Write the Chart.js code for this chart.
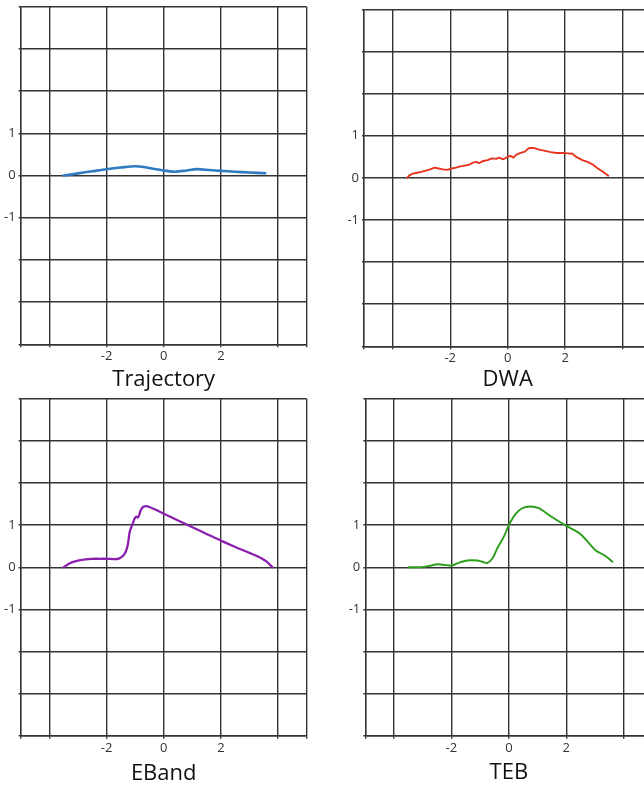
<!DOCTYPE html>
<html>
<head>
<meta charset="utf-8">
<script src="https://cdn.jsdelivr.net/npm/chart.js@4"></script>
<style>
  html, body { margin: 0; padding: 0; background: #fff; width: 644px; height: 786px; overflow: hidden; }
  .panel { position: absolute; }
  canvas { display: block; }
</style>
</head>
<body>
<div class="panel" id="p0"><canvas id="c0"></canvas></div>
<div class="panel" id="p1"><canvas id="c1"></canvas></div>
<div class="panel" id="p2"><canvas id="c2"></canvas></div>
<div class="panel" id="p3"><canvas id="c3"></canvas></div>
<script>
// ---------------- data ----------------
const panelTitles = ['Trajectory', 'DWA', 'EBand', 'TEB'];

const xGridValues = [-5, -4, -2, 0, 2, 4, 5];
const xTickLabels = ['-2', '0', '2'];
const yGridValues = [-4, -3, -2, -1, 0, 1, 2, 3, 4];
const yTickLabels = ['-1', '0', '1'];

const trajX = [-3.5, -3.0, -2.5, -2.0, -1.5, -1.0, -0.6, -0.2, 0.1, 0.4, 0.8, 1.15, 1.6, 2.0, 2.5, 3.0, 3.55];
const trajY = [0, 0.05, 0.10, 0.15, 0.19, 0.22, 0.19, 0.14, 0.11, 0.09, 0.12, 0.15, 0.13, 0.11, 0.09, 0.07, 0.055];

const dwaX = [-3.5, -3.42, -3.3, -3.15, -3.0, -2.85, -2.7, -2.55, -2.4, -2.25, -2.1, -1.95, -1.8, -1.65, -1.5, -1.35, -1.2, -1.1, -1.0, -0.85, -0.7, -0.55, -0.4, -0.3, -0.15, 0.0, 0.1, 0.2, 0.3, 0.45, 0.6, 0.72, 0.85, 0.95, 1.1, 1.3, 1.5, 1.7, 1.9, 2.1, 2.25, 2.4, 2.6, 2.8, 2.95, 3.1, 3.3, 3.5];
const dwaY = [0, 0.06, 0.10, 0.12, 0.14, 0.17, 0.20, 0.24, 0.22, 0.20, 0.19, 0.22, 0.24, 0.27, 0.29, 0.31, 0.36, 0.38, 0.35, 0.40, 0.42, 0.46, 0.45, 0.48, 0.44, 0.50, 0.52, 0.48, 0.55, 0.59, 0.62, 0.70, 0.71, 0.70, 0.67, 0.64, 0.61, 0.59, 0.59, 0.58, 0.57, 0.49, 0.42, 0.37, 0.32, 0.24, 0.15, 0.05];

const ebandX = [-3.5, -3.3, -3.1, -2.8, -2.5, -2.2, -1.95, -1.7, -1.55, -1.42, -1.32, -1.25, -1.2, -1.15, -1.1, -1.05, -1.0, -0.95, -0.9, -0.85, -0.8, -0.72, -0.62, -0.5, -0.3, 0.0, 0.5, 1.0, 1.5, 2.0, 2.5, 3.0, 3.4, 3.6, 3.8];
const ebandY = [0, 0.09, 0.14, 0.18, 0.20, 0.20, 0.20, 0.19, 0.21, 0.27, 0.38, 0.55, 0.80, 0.92, 1.00, 1.10, 1.17, 1.20, 1.18, 1.25, 1.36, 1.43, 1.45, 1.43, 1.37, 1.27, 1.11, 0.95, 0.79, 0.63, 0.48, 0.34, 0.22, 0.13, 0];

const tebX = [-3.5, -3.06, -2.77, -2.49, -2.2, -1.99, -1.73, -1.45, -1.1, -0.92, -0.75, -0.58, -0.4, -0.17, 0.0, 0.23, 0.46, 0.75, 1.04, 1.5, 2.0, 2.49, 3.01, 3.35, 3.61];
const tebY = [0, 0, 0.03, 0.07, 0.05, 0.04, 0.11, 0.16, 0.16, 0.13, 0.10, 0.20, 0.45, 0.73, 1.0, 1.26, 1.40, 1.44, 1.40, 1.19, 0.98, 0.79, 0.41, 0.27, 0.13];

const seriesX = [trajX, dwaX, ebandX, tebX];
const seriesY = [trajY, dwaY, ebandY, tebY];

// ---------------- layout & style ----------------
const panels = [
  { left: 0,   top: 0,   w: 322, h: 393, pad: {left: 0, top: 6.7, right: 15.3, bottom: 0.3}, yW: 20.7, xH: 48.4,
    color: '#2e7bbf', lw: 2.6, tension: 0.3 },
  { left: 322, top: 0,   w: 340, h: 394, pad: {left: 0, top: 9.3, right: 10.6, bottom: 0.8}, yW: 42.0, xH: 46.9,
    color: '#e8321e', lw: 1.9, tension: 0 },
  { left: 0,   top: 393, w: 322, h: 395, pad: {left: 0, top: 5.7, right: 15.3, bottom: 0.8}, yW: 20.7, xH: 51.5,
    color: '#8b1fae', lw: 2.3, tension: 0.25 },
  { left: 322, top: 393, w: 340, h: 395, pad: {left: 0, top: 5.7, right: 9.6, bottom: 1.8}, yW: 43.3, xH: 50.5,
    color: '#2a9d1a', lw: 1.9, tension: 0.3 }
];

const gridColor = '#333333';
const tickFont = { family: "'Open Sans', 'Noto Sans', sans-serif", size: 13 };
const titleFont = { family: "'Open Sans', 'Noto Sans', sans-serif", size: 22 };

Chart.defaults.devicePixelRatio = 1;

panels.forEach((p, i) => {
  const div = document.getElementById('p' + i);
  div.style.left = p.left + 'px';
  div.style.top = p.top + 'px';
  const cv = document.getElementById('c' + i);
  cv.width = p.w; cv.height = p.h;
  cv.style.width = p.w + 'px'; cv.style.height = p.h + 'px';

  const pts = seriesX[i].map((x, k) => ({ x: x, y: seriesY[i][k] }));

  new Chart(cv, {
    type: 'scatter',
    data: {
      datasets: [{
        data: pts,
        showLine: true,
        borderColor: p.color,
        backgroundColor: p.color,
        borderWidth: p.lw,
        pointRadius: 0,
        tension: p.tension,
        borderCapStyle: 'round',
        borderJoinStyle: 'round'
      }]
    },
    options: {
      responsive: false,
      animation: false,
      devicePixelRatio: 1,
      layout: { padding: p.pad },
      plugins: { legend: { display: false }, tooltip: { enabled: false }, title: { display: false } },
      scales: {
        x: {
          type: 'linear',
          min: xGridValues[0],
          max: xGridValues[xGridValues.length - 1],
          afterBuildTicks: (s) => { s.ticks = xGridValues.map(v => ({ value: v })); },
          afterFit: (s) => { s.height = p.xH; s.paddingLeft = 0; s.paddingRight = 0; },
          grid: { color: gridColor, lineWidth: 1.4, tickLength: 3, drawTicks: true },
          border: { color: gridColor, width: 1.4 },
          ticks: {
            color: '#333',
            font: tickFont,
            padding: 1.5,
            maxRotation: 0,
            autoSkip: false,
            callback: (v) => { const s = String(v); return xTickLabels.includes(s) ? s : ''; }
          },
          title: { display: true, text: panelTitles[i], color: '#111', font: titleFont, padding: 0 }
        },
        y: {
          type: 'linear',
          min: yGridValues[0],
          max: yGridValues[yGridValues.length - 1],
          afterBuildTicks: (s) => { s.ticks = yGridValues.map(v => ({ value: v })); },
          afterFit: (s) => { s.width = p.yW; s.paddingTop = 0; s.paddingBottom = 0; },
          grid: { color: gridColor, lineWidth: 1.4, tickLength: 2, drawTicks: true },
          border: { color: gridColor, width: 1.4 },
          ticks: {
            color: '#333',
            font: tickFont,
            padding: 3,
            autoSkip: false,
            callback: (v) => { const s = String(v); return yTickLabels.includes(s) ? s : ''; }
          }
        }
      }
    }
  });
});
</script>
</body>
</html>
